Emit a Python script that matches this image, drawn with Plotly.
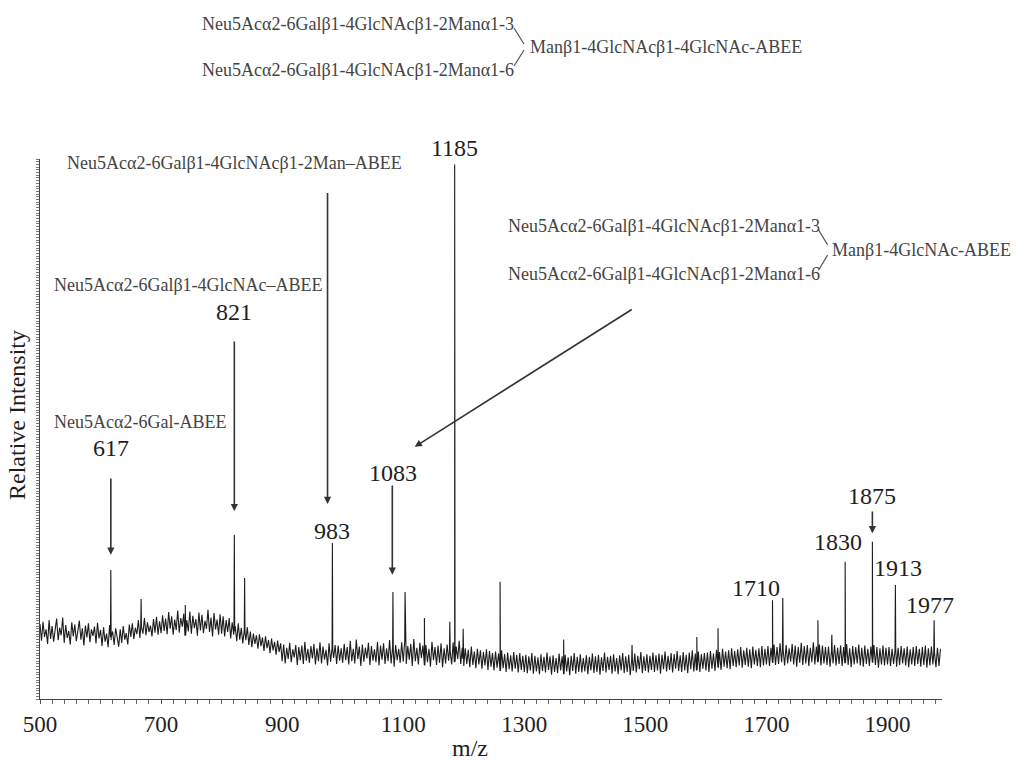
import numpy as np
import plotly.graph_objects as go

# Baseline (noise) intensities sampled every 2.5 m/z from 500
noise_start = 500.0
noise_step = 2.5
noise_int = [
    # 500-597.5
    13.9, 10.8, 14.3, 11.5, 12.9, 10.2, 14.6, 11.1, 13.5, 10.6, 12.8, 14.9, 10.9, 13.2, 11.8, 15.1, 10.4, 13.7, 11.3, 12.6,
    10.1, 14.2, 11.6, 13.8, 10.7, 12.4, 14.5, 11.0, 13.1, 9.9, 13.6, 11.4, 14.0, 10.5, 12.9, 11.7, 13.4, 10.3, 14.1, 11.2,
    # 600-697.5
    12.8, 9.8, 13.3, 10.6, 12.1, 9.6, 13.7, 10.9, 12.5, 10.0, 13.1, 11.2, 9.7, 12.9, 10.4, 13.5, 11.0, 12.2, 10.1, 13.8,
    11.5, 14.0, 11.1, 13.2, 12.0, 14.6, 11.3, 13.9, 12.1, 15.0, 11.8, 14.2, 12.4, 13.6, 11.6, 14.8, 12.3, 15.2, 11.9, 14.4,
    # 700-797.5
    12.2, 15.5, 12.6, 14.9, 12.0, 16.1, 13.0, 15.3, 11.9, 14.7, 12.8, 16.4, 12.3, 15.0, 13.4, 15.8, 11.8, 14.6, 12.5, 16.2,
    12.1, 15.4, 13.1, 14.8, 11.7, 16.0, 12.7, 15.6, 12.2, 14.5, 13.0, 16.5, 12.4, 15.1, 11.6, 15.9, 12.9, 14.7, 11.9, 15.7,
    # 800-897.5
    12.1, 15.3, 11.6, 14.6, 12.4, 15.0, 11.2, 14.2, 11.9, 13.5, 10.7, 14.0, 11.0, 13.2, 10.3, 12.8, 10.9, 13.3, 10.0, 12.5,
    9.6, 12.1, 10.2, 11.8, 9.3, 12.0, 9.8, 11.4, 8.9, 11.6, 9.4, 10.9, 8.5, 11.2, 9.0, 10.6, 8.2, 10.8, 8.7, 10.3,
    # 900-997.5
    7.0, 10.1, 6.6, 9.5, 7.4, 10.4, 6.8, 9.2, 7.7, 10.0, 6.3, 9.6, 7.2, 9.9, 6.5, 10.6, 7.1, 9.3, 6.7, 9.8,
    7.5, 10.2, 6.4, 9.4, 7.0, 10.5, 6.6, 9.7, 7.3, 9.1, 6.2, 10.3, 6.9, 9.5, 7.6, 10.0, 6.5, 9.9, 7.1, 9.4,
    # 1000-1097.5
    6.7, 10.2, 7.2, 9.6, 6.4, 10.8, 7.0, 9.3, 6.6, 11.0, 7.4, 9.7, 6.1, 10.1, 6.9, 9.5, 7.5, 10.4, 6.3, 9.8,
    7.1, 9.2, 6.8, 10.6, 6.2, 9.9, 7.3, 10.3, 6.5, 9.4, 7.0, 10.9, 6.6, 9.6, 6.0, 10.0, 7.2, 9.3, 6.7, 10.5,
    # 1100-1197.5
    6.9, 10.7, 6.5, 9.8, 7.3, 10.2, 6.1, 11.1, 7.0, 9.5, 6.4, 10.4, 7.6, 9.9, 6.2, 10.0, 6.8, 9.3, 6.0, 10.6,
    7.2, 9.6, 6.3, 9.9, 6.7, 10.3, 5.9, 9.4, 6.6, 10.1, 7.1, 9.2, 6.4, 10.5, 6.9, 9.7, 7.4, 10.8, 6.5, 9.5,
    # 1200-1297.5
    6.1, 9.4, 6.5, 9.1, 5.9, 9.7, 6.3, 8.8, 5.7, 9.3, 6.4, 9.0, 5.6, 8.7, 6.2, 9.2, 5.4, 8.9, 6.0, 8.5,
    5.3, 8.8, 5.8, 8.4, 5.2, 9.0, 5.7, 8.3, 5.0, 8.6, 5.5, 8.1, 5.1, 8.7, 5.6, 8.2, 4.9, 8.5, 5.4, 8.0,
    # 1300-1397.5
    5.0, 8.2, 4.8, 7.9, 5.3, 8.5, 4.7, 8.0, 5.1, 7.7, 4.6, 8.3, 5.2, 7.8, 4.9, 8.6, 5.4, 7.9, 4.5, 8.1,
    5.0, 7.6, 4.8, 8.4, 5.3, 7.9, 4.6, 8.2, 5.1, 7.7, 4.4, 8.0, 5.2, 8.5, 4.7, 7.8, 5.0, 8.3, 4.9, 7.6,
    # 1400-1497.5
    5.1, 8.1, 4.6, 7.8, 5.3, 8.4, 4.8, 7.9, 5.0, 8.2, 4.5, 7.7, 5.2, 8.6, 4.9, 7.8, 5.4, 8.0, 4.7, 8.3,
    5.1, 7.6, 4.6, 8.1, 5.3, 8.5, 4.8, 7.9, 5.0, 8.2, 4.4, 7.8, 5.2, 8.4, 4.9, 8.0, 5.5, 8.7, 4.8, 7.9,
    # 1500-1597.5
    5.2, 8.3, 4.9, 8.0, 5.4, 8.6, 5.0, 8.1, 5.3, 8.4, 4.7, 8.2, 5.5, 8.8, 5.1, 8.0, 5.4, 8.5, 4.9, 8.3,
    5.6, 8.9, 5.2, 8.1, 5.0, 8.7, 5.3, 8.2, 4.8, 8.6, 5.5, 9.0, 5.1, 8.4, 5.4, 8.8, 5.0, 8.3, 5.6, 8.5,
    # 1600-1697.5
    5.3, 8.6, 5.0, 8.9, 5.6, 8.4, 5.2, 9.1, 5.8, 8.7, 5.4, 9.3, 6.0, 8.8, 5.7, 9.0, 5.5, 9.4, 6.1, 8.9,
    5.9, 9.2, 6.2, 9.6, 5.8, 9.0, 6.3, 9.5, 6.0, 9.2, 5.7, 9.7, 6.4, 9.1, 6.1, 9.4, 5.9, 9.8, 6.2, 9.3,
    # 1700-1797.5
    6.4, 9.8, 6.1, 9.5, 6.7, 10.1, 6.3, 9.6, 6.5, 10.3, 6.8, 9.7, 6.2, 10.0, 6.6, 9.4, 6.9, 10.2, 6.4, 9.9,
    6.0, 9.6, 6.7, 10.4, 6.3, 9.8, 6.6, 10.0, 6.1, 9.5, 6.8, 10.5, 6.4, 9.7, 6.9, 10.1, 6.2, 9.9, 6.6, 9.6,
    # 1800-1897.5
    6.3, 9.7, 6.0, 9.4, 6.6, 10.0, 6.2, 9.5, 6.5, 9.9, 6.1, 9.6, 6.7, 10.2, 6.3, 9.4, 5.9, 9.8, 6.4, 9.6,
    6.6, 10.1, 6.2, 9.5, 6.0, 9.9, 6.5, 9.3, 6.1, 9.7, 6.7, 10.0, 6.3, 9.6, 5.8, 9.4, 6.4, 9.9, 6.2, 9.5,
    # 1900-1987.5
    6.4, 9.6, 6.1, 9.3, 6.5, 9.9, 6.0, 9.5, 6.3, 9.8, 6.6, 9.4, 6.2, 9.7, 5.9, 9.2, 6.4, 9.6, 6.1, 9.8,
    6.5, 9.3, 6.0, 9.6, 6.3, 9.9, 5.8, 9.4, 6.2, 9.7, 6.4, 9.1, 5.9, 9.5, 6.1, 9.3,
]
noise_mz = [noise_start + i * noise_step for i in range(len(noise_int))]

# Ion peaks (m/z, relative intensity)
peak_mz = [617, 667, 740, 821, 838, 983, 1083, 1103, 1135, 1177, 1185, 1199, 1260,
           1365, 1478, 1585, 1620, 1710, 1727, 1785, 1808, 1830, 1875, 1913, 1977]
peak_int = [23.9, 18.5, 17.4, 30.4, 22.4, 28.9, 19.8, 19.8, 15.0, 14.3, 99.0, 13.0, 21.7,
            11.0, 10.0, 11.5, 13.1, 18.3, 18.7, 14.6, 11.9, 25.4, 29.1, 21.1, 14.6]

# Labelled peaks
label_mz = [617, 821, 983, 1083, 1185, 1710, 1830, 1875, 1913, 1977]

# Merge baseline and peaks into one continuous trace
foot = np.interp(peak_mz, noise_mz, noise_int)
xs = list(noise_mz)
ys = list(noise_int)
for m, h, f in zip(peak_mz, peak_int, foot):
    xs += [m - 0.6, m, m + 0.6]
    ys += [f, h, f]
order = np.argsort(xs, kind="stable")
xs = np.array(xs)[order]
ys = np.array(ys)[order]

SERIF = "Liberation Serif, Times New Roman, serif"
TXT = "#444444"
NUM = "#1e1e1e"
STRUCT = 18
NUMSIZE = 24

fig = go.Figure()
fig.add_trace(go.Scatter(x=xs, y=ys, mode="lines",
                         line=dict(color="#1c1c1c", width=1.1),
                         hoverinfo="skip", showlegend=False))

ann = []

def text(x, y, s, size=STRUCT, color=TXT, xanchor="left", xref="x", yref="y"):
    ann.append(dict(x=x, y=y, text=s, showarrow=False, xref=xref, yref=yref,
                    xanchor=xanchor, yanchor="middle",
                    font=dict(family=SERIF, size=size, color=color)))

def arrow(x, y, ax, ay):
    ann.append(dict(x=x, y=y, ax=ax, ay=ay, xref="x", yref="y", axref="x", ayref="y",
                    text="", showarrow=True, arrowhead=2, arrowsize=0.9,
                    arrowwidth=1.6, arrowcolor="#333333", standoff=0, startstandoff=0))

# Intact glycan structure above the plot
text(0.1774, 1.2500, "Neu5Acα2-6Galβ1-4GlcNAcβ1-2Manα1-3", xref="paper", yref="paper")
text(0.1774, 1.1648, "Neu5Acα2-6Galβ1-4GlcNAcβ1-2Manα1-6", xref="paper", yref="paper")
text(0.5410, 1.2074, "Manβ1-4GlcNAcβ1-4GlcNAc-ABEE", xref="paper", yref="paper")

# Fragment structures
text(541, 99.2, "Neu5Acα2-6Galβ1-4GlcNAcβ1-2Man–ABEE")
text(1269, 87.6, "Neu5Acα2-6Galβ1-4GlcNAcβ1-2Manα1-3")
text(1269, 78.7, "Neu5Acα2-6Galβ1-4GlcNAcβ1-2Manα1-6")
text(1805, 83.1, "Manβ1-4GlcNAc-ABEE")
text(519, 76.7, "Neu5Acα2-6Galβ1-4GlcNAc–ABEE")
text(519, 51.3, "Neu5Acα2-6Gal-ABEE")

# m/z labels
lab_pos = {617: (617, 46.5), 821: (821, 71.7), 983: (983, 31.1), 1083: (1083, 41.9),
           1710: (1683, 20.6), 1830: (1818, 29.1),
           1875: (1875, 37.6), 1913: (1917, 24.3), 1977: (1970, 17.4)}
for m in label_mz:
    if m in lab_pos:
        lx, ly = lab_pos[m]
        text(lx, ly, str(m), size=NUMSIZE, color=NUM, xanchor="center")
# base peak label sits above the plotting area
text((1185 - 500) / 1490, 1.0204, "1185", size=NUMSIZE, color=NUM, xanchor="center",
     xref="paper", yref="paper")

# Arrows pointing to peaks
arrow(617, 26.7, 617, 41.1)
arrow(821, 34.8, 821, 66.5)
arrow(975, 36.1, 975, 94.0)
arrow(1082, 23.0, 1082, 39.8)
arrow(1119, 46.7, 1480, 72.3)
arrow(1875, 30.7, 1875, 35.0)

# Axis titles
text(-0.0255, 0.526, "Relative Intensity", size=24, color=NUM, xanchor="center",
     xref="paper", yref="paper")
ann[-1]["textangle"] = -90
text(0.4767, -0.0907, "m/z", size=24, color=NUM, xanchor="center", xref="paper", yref="paper")

BR = dict(color="#555555", width=1.2)
shapes = [
    # bracket joining the two antennae (intact structure)
    dict(type="line", xref="paper", yref="paper", x0=0.5255, y0=1.2426, x1=0.5366, y1=1.2130, line=BR),
    dict(type="line", xref="paper", yref="paper", x0=0.5255, y0=1.1722, x1=0.5366, y1=1.2019, line=BR),
    # bracket for the fragment structure
    dict(type="line", xref="x", yref="y", x0=1786, y0=86.9, x1=1801, y1=84.1, line=BR),
    dict(type="line", xref="x", yref="y", x0=1786, y0=79.4, x1=1801, y1=82.2, line=BR),
]

fig.update_layout(
    width=1032, height=760,
    margin=dict(l=40, r=90, t=159, b=61),
    paper_bgcolor="white", plot_bgcolor="white",
    annotations=ann, shapes=shapes, showlegend=False,
    xaxis=dict(range=[500, 1990], showgrid=False, zeroline=False,
               showline=True, linecolor="#444444", linewidth=1.2,
               ticks="outside", ticklen=4, tickcolor="#555555", tickwidth=1,
               tick0=500, dtick=200,
               minor=dict(dtick=20, ticks="outside", ticklen=4, tickcolor="#666666"),
               tickfont=dict(family=SERIF, size=23, color=NUM)),
    yaxis=dict(range=[0, 100], showgrid=False, zeroline=False,
               showline=True, linecolor="#444444", linewidth=1.2,
               ticks="outside", ticklen=3, tickcolor="#777777", tickwidth=1,
               tick0=0, dtick=0.5, showticklabels=False),
)

fig.write_html("out.html")
